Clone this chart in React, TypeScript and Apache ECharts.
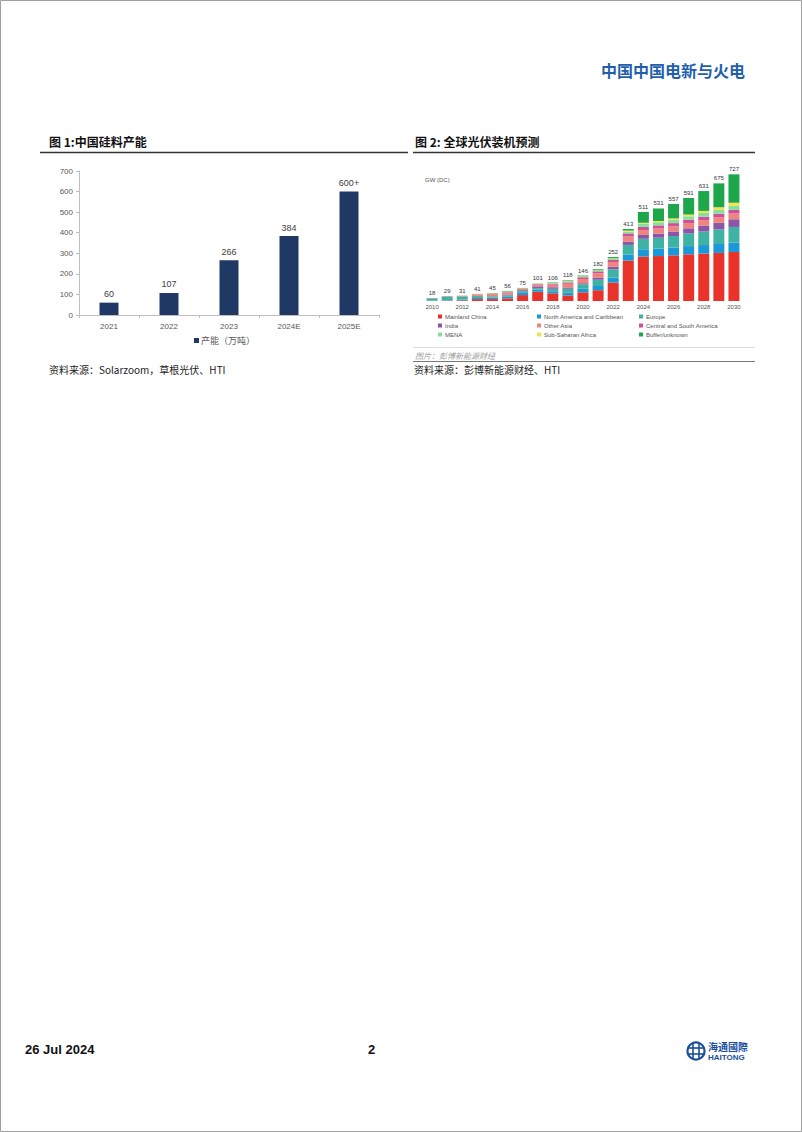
import React, { useEffect, useRef } from "react";
import * as echarts from "echarts";

// ---- Figure 1 data ----
const years1 = ["2021", "2022", "2023", "2024E", "2025E"];
const capacity = [60, 107, 266, 384, 600];
const capacityLabels = ["60", "107", "266", "384", "600+"];
const yTicks1 = [0, 100, 200, 300, 400, 500, 600, 700];

// ---- Figure 2 data ----
const years2 = [
  "2010", "2011", "2012", "2013", "2014", "2015", "2016", "2017", "2018", "2019", "2020",
  "2021", "2022", "2023", "2024", "2025", "2026", "2027", "2028", "2029", "2030",
];
const totals = [18, 29, 31, 41, 45, 56, 75, 101, 106, 118, 146, 182, 252, 413, 511, 531, 557, 591, 631, 675, 727];
const mainlandChina = [0.5, 2, 4, 11, 11, 15, 34, 53, 44, 32, 50, 62, 106, 232, 255, 258, 262, 268, 272, 276, 281];
const northAmerica = [1, 2, 4, 6, 8, 9, 16, 12, 12, 15, 20, 24, 28, 35, 42, 43, 45, 47, 49, 51, 54];
const europe = [14, 22, 18, 11, 8, 9, 7, 9, 14, 23, 26, 36, 48, 55, 60, 62, 66, 72, 78, 84, 90];
const india = [0, 0.5, 1, 1, 1, 2, 5, 10, 9, 8, 6, 12, 15, 18, 22, 24, 26, 30, 34, 38, 44];
const otherAsia = [2, 2, 3, 9, 12, 14, 8, 10, 15, 21, 24, 25, 27, 30, 28, 29, 30, 30, 31, 32, 33];
const centralSouthAmerica = [0.2, 0.2, 0.3, 1, 1, 2, 1, 3, 5, 8, 10, 11, 12, 18, 18, 18, 18, 19, 20, 20, 21];
const mena = [0.1, 0.1, 0.3, 1, 1, 1, 1, 2, 3, 5, 5, 4, 6, 10, 18, 18, 19, 20, 21, 22, 23];
const subSaharanAfrica = [0.1, 0.1, 0.2, 0.5, 1, 1, 1, 1, 1, 2, 1, 2, 3, 6, 6, 7, 8, 10, 12, 15, 18];
const bufferUnknown = [0.1, 0.1, 0.2, 0.5, 2, 3, 2, 1, 3, 4, 4, 6, 7, 9, 62, 72, 83, 95, 114, 137, 163];

const seriesNames2 = [
  "Mainland China", "North America and Caribbean", "Europe",
  "India", "Other Asia", "Central and South America",
  "MENA", "Sub-Saharan Africa", "Buffer/unknown",
];
const seriesData2 = [
  mainlandChina, northAmerica, europe, india, otherAsia,
  centralSouthAmerica, mena, subSaharanAfrica, bufferUnknown,
];
const seriesColors2 = [
  "#e8322a", "#1b98d8", "#3fb3a3", "#8b56a8", "#f0837e",
  "#cf4f98", "#84e09a", "#f2e34a", "#1ea64b",
];

const SANS = "'Liberation Sans', 'Noto Sans CJK SC', sans-serif";
const CJK = "'Noto Sans CJK SC', 'Liberation Sans', sans-serif";

export default function App() {
  const ref = useRef<HTMLDivElement>(null);

  useEffect(() => {
    if (!ref.current) return;
    const chart = echarts.init(ref.current, undefined, { renderer: "svg" });

    const series2: any[] = seriesNames2.map((name, i) => ({
      name,
      type: "bar",
      xAxisIndex: 1,
      yAxisIndex: 1,
      stack: "total",
      barWidth: 11,
      data: seriesData2[i],
      itemStyle: { color: seriesColors2[i] },
      label:
        i === seriesNames2.length - 1
          ? {
              show: true,
              position: "top",
              distance: 2,
              fontSize: 6,
              color: "#333",
              fontFamily: SANS,
              formatter: (p: any) => String(totals[p.dataIndex]),
            }
          : { show: false },
    }));

    const legendCol = (left: number, names: string[]) => ({
      show: true,
      orient: "vertical",
      left,
      top: 312,
      itemWidth: 4,
      itemHeight: 4,
      itemGap: 0,
      icon: "rect",
      padding: 0,
      data: names,
      textStyle: { fontSize: 6, color: "#555", fontFamily: SANS, lineHeight: 9, padding: [0, 0, 0, -2] },
    });

    chart.setOption({
      animation: false,
      backgroundColor: "#ffffff",
      legend: [
        {
          show: true,
          left: 194,
          top: 336,
          itemWidth: 5,
          itemHeight: 5,
          icon: "rect",
          padding: 0,
          data: ["产能（万吨）"],
          textStyle: { fontSize: 9, color: "#595959", fontFamily: CJK, padding: [0, 0, 0, -3] },
        },
        legendCol(438, [seriesNames2[0], seriesNames2[3], seriesNames2[6]]),
        legendCol(537, [seriesNames2[1], seriesNames2[4], seriesNames2[7]]),
        legendCol(639, [seriesNames2[2], seriesNames2[5], seriesNames2[8]]),
      ],
      grid: [
        { left: 79, top: 171, width: 300, height: 144 },
        { left: 424.5, top: 161.6, width: 317, height: 139.4 },
      ],
      xAxis: [
        {
          gridIndex: 0,
          type: "category",
          data: years1,
          axisLine: { show: true, lineStyle: { color: "#bfbfbf", width: 1 } },
          axisTick: { show: true, length: 3, lineStyle: { color: "#bfbfbf" } },
          axisLabel: { fontSize: 8, color: "#595959", fontFamily: SANS, margin: 7 },
        },
        {
          gridIndex: 1,
          type: "category",
          data: years2,
          axisLine: { show: false },
          axisTick: { show: false },
          axisLabel: { interval: 1, fontSize: 6, color: "#555", fontFamily: SANS, margin: 3 },
        },
      ],
      yAxis: [
        {
          gridIndex: 0,
          type: "value",
          min: 0,
          max: 700,
          interval: 100,
          axisLine: { show: true, lineStyle: { color: "#bfbfbf", width: 1 } },
          axisTick: { show: true, length: 3, lineStyle: { color: "#bfbfbf" } },
          splitLine: { show: false },
          axisLabel: { fontSize: 8, color: "#595959", fontFamily: SANS, margin: 6 },
        },
        {
          gridIndex: 1,
          type: "value",
          min: 0,
          max: 800,
          show: false,
          splitLine: { show: false },
        },
      ],
      series: [
        {
          name: "产能（万吨）",
          type: "bar",
          xAxisIndex: 0,
          yAxisIndex: 0,
          barWidth: 19,
          data: capacity,
          itemStyle: { color: "#1f3864" },
          label: {
            show: true,
            position: "top",
            distance: 4,
            fontSize: 9,
            color: "#404040",
            fontFamily: SANS,
            formatter: (p: any) => capacityLabels[p.dataIndex],
          },
        },
        ...series2,
      ],
      graphic: [
        // page border
        { type: "rect", shape: { x: 0.5, y: 0.5, width: 801, height: 1131 }, style: { fill: "none", stroke: "#a0a0a0", lineWidth: 1 }, silent: true },
        // header
        { type: "text", x: 601, y: 70, style: { text: "中国中国电新与火电", fill: "#1f5fae", fontSize: 16, fontFamily: CJK, fontWeight: "bold", textVerticalAlign: "middle" } },
        // figure titles
        { type: "text", x: 49, y: 141, style: { text: "图 1:中国硅料产能", fill: "#111", fontSize: 12, fontFamily: CJK, fontWeight: "bold", textVerticalAlign: "middle" } },
        { type: "text", x: 415, y: 141, style: { text: "图 2: 全球光伏装机预测", fill: "#111", fontSize: 12, fontFamily: CJK, fontWeight: "bold", textVerticalAlign: "middle" } },
        { type: "line", shape: { x1: 40, y1: 152.5, x2: 408, y2: 152.5 }, style: { stroke: "#333", lineWidth: 1.5 } },
        { type: "line", shape: { x1: 413, y1: 152.5, x2: 755, y2: 152.5 }, style: { stroke: "#333", lineWidth: 1.5 } },
        // chart 2 unit
        { type: "text", x: 425, y: 180, style: { text: "GW (DC)", fill: "#555", fontSize: 6, fontFamily: SANS, textVerticalAlign: "middle" } },
        // chart 2 picture bottom, caption, rule
        { type: "line", shape: { x1: 413, y1: 347.5, x2: 755, y2: 347.5 }, style: { stroke: "#dddddd", lineWidth: 1 } },
        { type: "text", x: 415, y: 355, style: { text: "图片：彭博新能源财经", fill: "#a0a0a0", fontSize: 8, fontFamily: CJK, fontStyle: "italic", textVerticalAlign: "middle" } },
        { type: "line", shape: { x1: 413, y1: 361.5, x2: 755, y2: 361.5 }, style: { stroke: "#777", lineWidth: 1 } },
        // sources
        { type: "text", x: 49, y: 369, style: { text: "资料来源：Solarzoom，草根光伏、HTI", fill: "#222", fontSize: 10, fontFamily: CJK, textVerticalAlign: "middle" } },
        { type: "text", x: 414, y: 369, style: { text: "资料来源：彭博新能源财经、HTI", fill: "#222", fontSize: 10, fontFamily: CJK, textVerticalAlign: "middle" } },
        // footer
        { type: "text", x: 25, y: 1049, style: { text: "26 Jul 2024", fill: "#111", fontSize: 13, fontFamily: SANS, fontWeight: "bold", textVerticalAlign: "middle" } },
        { type: "text", x: 368, y: 1049, style: { text: "2", fill: "#111", fontSize: 13, fontFamily: SANS, fontWeight: "bold", textVerticalAlign: "middle" } },
        // logo
        { type: "circle", shape: { cx: 696, cy: 1051, r: 8.5 }, style: { fill: "none", stroke: "#1a4f9c", lineWidth: 2.2 } },
        { type: "line", shape: { x1: 688, y1: 1048, x2: 704, y2: 1048 }, style: { stroke: "#1a4f9c", lineWidth: 1.6 } },
        { type: "line", shape: { x1: 688, y1: 1054, x2: 704, y2: 1054 }, style: { stroke: "#1a4f9c", lineWidth: 1.6 } },
        { type: "line", shape: { x1: 693, y1: 1043, x2: 693, y2: 1059 }, style: { stroke: "#1a4f9c", lineWidth: 1.6 } },
        { type: "line", shape: { x1: 699, y1: 1043, x2: 699, y2: 1059 }, style: { stroke: "#1a4f9c", lineWidth: 1.6 } },
        { type: "text", x: 708, y: 1046, style: { text: "海通國際", fill: "#1a4f9c", fontSize: 10, fontFamily: CJK, fontWeight: "bold", textVerticalAlign: "middle" } },
        { type: "text", x: 708, y: 1057, style: { text: "HAITONG", fill: "#1a4f9c", fontSize: 8, fontFamily: SANS, fontWeight: "bold", textVerticalAlign: "middle" } },
      ],
    });

    return () => chart.dispose();
  }, []);

  return (
    <div
      ref={ref}
      style={{ position: "absolute", left: 0, top: 0, width: 802, height: 1132, background: "#fff", overflow: "hidden" }}
    />
  );
}
